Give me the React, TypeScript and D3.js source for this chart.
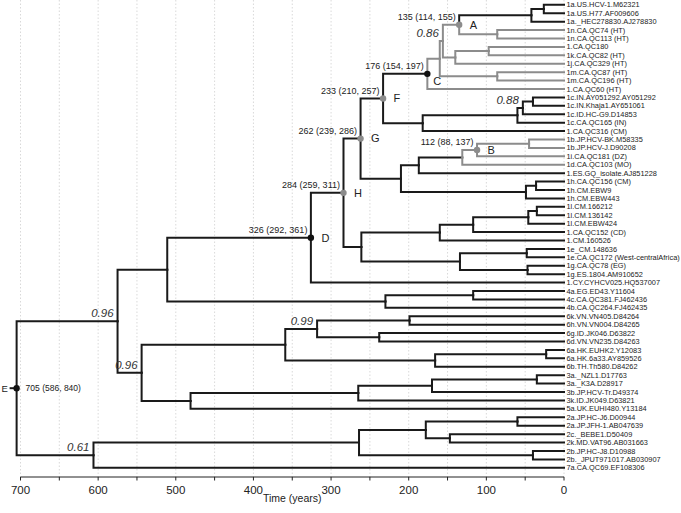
import React from "react";
import * as d3 from "d3";

const leafNames: string[] = [
  "1a.US.HCV-1.M62321",
  "1a.US.H77.AF009606",
  "1a._HEC278830.AJ278830",
  "1n.CA.QC74 (HT)",
  "1n.CA.QC113 (HT)",
  "1.CA.QC180",
  "1k.CA.QC82 (HT)",
  "1j.CA.QC329 (HT)",
  "1m.CA.QC87 (HT)",
  "1m.CA.QC196 (HT)",
  "1.CA.QC60 (HT)",
  "1c.IN.AY051292.AY051292",
  "1c.IN.Khaja1.AY651061",
  "1c.ID.HC-G9.D14853",
  "1c.CA.QC165 (IN)",
  "1.CA.QC316 (CM)",
  "1b.JP.HCV-BK.M58335",
  "1b.JP.HCV-J.D90208",
  "1i.CA.QC181 (DZ)",
  "1d.CA.QC103 (MO)",
  "1.ES.GQ_isolate.AJ851228",
  "1h.CA.QC156 (CM)",
  "1h.CM.EBW9",
  "1h.CM.EBW443",
  "1l.CM.166212",
  "1l.CM.136142",
  "1l.CM.EBW424",
  "1.CA.QC152 (CD)",
  "1.CM.160526",
  "1e_CM.148636",
  "1e.CA.QC172 (West-centralAfrica)",
  "1g.CA.QC78 (EG)",
  "1g.ES.1804.AM910652",
  "1.CY.CYHCV025.HQ537007",
  "4a.EG.ED43.Y11604",
  "4c.CA.QC381.FJ462436",
  "4b.CA.QC264.FJ462435",
  "6k.VN.VN405.D84264",
  "6h.VN.VN004.D84265",
  "6g.ID.JK046.D63822",
  "6d.VN.VN235.D84263",
  "6a.HK.EUHK2.Y12083",
  "6a.HK.6a33.AY859526",
  "6b.TH.Th580.D84262",
  "3a._NZL1.D17763",
  "3a._K3A.D28917",
  "3b.JP.HCV-Tr.D49374",
  "3k.ID.JK049.D63821",
  "5a.UK.EUHI480.Y13184",
  "2a.JP.HC-J6.D00944",
  "2a.JP.JFH-1.AB047639",
  "2c._BEBE1.D50409",
  "2k.MD.VAT96.AB031663",
  "2b.JP.HC-J8.D10988",
  "2b._JPUT971017.AB030907",
  "7a.CA.QC69.EF108306",
];

// [node id, age in years before present, child, child]  (leaves are L1..L56)
const internalNodes: [string, number, string, string][] = [
  ["n1a12", 26, "L1", "L2"],
  ["n1a", 42, "n1a12", "L3"],
  ["n1n", 86, "L4", "L5"],
  ["A", 135, "n1a", "n1n"],
  ["n180", 97, "L6", "L7"],
  ["n329", 140, "n180", "L8"],
  ["n086", 156, "A", "n329"],
  ["n1m", 86, "L9", "L10"],
  ["X", 160, "n086", "n1m"],
  ["C", 176, "X", "L11"],
  ["n1c12", 40, "L12", "L13"],
  ["n088", 53, "n1c12", "L14"],
  ["n1c", 60, "n088", "L15"],
  ["n316", 182, "n1c", "L16"],
  ["F", 233, "C", "n316"],
  ["n1b", 45, "L17", "L18"],
  ["B", 112, "n1b", "L19"],
  ["W", 131, "B", "L20"],
  ["Z", 187, "W", "L21"],
  ["n1h12", 36, "L22", "L23"],
  ["n1h", 49, "n1h12", "L24"],
  ["Y", 210, "Z", "n1h"],
  ["G", 262, "F", "Y"],
  ["n1l12", 35, "L25", "L26"],
  ["n1l3", 46, "n1l12", "L27"],
  ["n1l4", 117, "n1l3", "L28"],
  ["n1l5", 160, "n1l4", "L29"],
  ["n1e", 48, "L30", "L31"],
  ["n1g", 47, "L32", "L33"],
  ["n1eg", 134, "n1e", "n1g"],
  ["Lnode", 261, "n1l5", "n1eg"],
  ["H", 284, "G", "Lnode"],
  ["D", 326, "H", "L34"],
  ["n4ac", 117, "L35", "L36"],
  ["n4", 230, "n4ac", "L37"],
  ["P", 511, "D", "n4"],
  ["n6kh", 199, "L38", "L39"],
  ["n6gd", 238, "L40", "L41"],
  ["n099", 318, "n6kh", "n6gd"],
  ["n6a", 23, "L42", "L43"],
  ["n6ab", 166, "n6a", "L44"],
  ["n6", 359, "n099", "n6ab"],
  ["n3a", 35, "L45", "L46"],
  ["n3ab", 170, "n3a", "L47"],
  ["n3k", 265, "n3ab", "L48"],
  ["n35", 481, "n3k", "L49"],
  ["n096b", 544, "n6", "n35"],
  ["n096a", 575, "P", "n096b"],
  ["n2a", 60, "L50", "L51"],
  ["n2ck", 147, "L52", "L53"],
  ["n2ack", 178, "n2a", "n2ck"],
  ["n2b", 40, "L54", "L55"],
  ["n2", 264, "n2ack", "n2b"],
  ["n061", 606, "n2", "L56"],
  ["E", 705, "n096a", "n061"],
];

const nodeAgeLabels: [string, string][] = [
  ["A", "135 (114, 155)"],
  ["B", "112 (88, 137)"],
  ["C", "176 (154, 197)"],
  ["F", "233 (210, 257)"],
  ["G", "262 (239, 286)"],
  ["H", "284 (259, 311)"],
  ["D", "326 (292, 361)"],
];
const rootAgeLabel = "705 (586, 840)";
const rootId = "E";

const posteriors: [string, string][] = [
  ["n086", "0.86"],
  ["n088", "0.88"],
  ["n099", "0.99"],
  ["n096a", "0.96"],
  ["n096b", "0.96"],
  ["n061", "0.61"],
];

const grayDotNodes = ["A", "B", "F", "G", "H"];
const blackDotNodes = ["C", "D", "E"];
const grayCladeRoots = ["C", "W"];
const blackCladeRoots = ["n1a"];

const majorTicks = [0, 100, 200, 300, 400, 500, 600, 700];
const minorTicks = [50, 150, 250, 350, 450, 550, 650];
const axisTitle = "Time (years)";

const FONT = "'Liberation Sans', Arial, Helvetica, sans-serif";
const BLACK = "#1a1a1a";
const GRAY = "#8c8c8c";

export default function App() {
  const xs = d3.scaleLinear().domain([0, 700]).range([564, 20.5]);
  const ys = d3.scaleLinear().domain([0, leafNames.length - 1]).range([4.8, 467.8]);
  const axisY = 477;

  const pos = new Map<string, { t: number; y: number }>();
  leafNames.forEach((_, i) => pos.set(`L${i + 1}`, { t: 0, y: ys(i) }));
  const kids = new Map<string, string[]>();
  internalNodes.forEach(([id, t, a, b]) => {
    const ya = pos.get(a)!.y;
    const yb = pos.get(b)!.y;
    pos.set(id, { t, y: (ya + yb) / 2 });
    kids.set(id, [a, b]);
  });

  const gray = new Set<string>();
  const markGray = (id: string) => {
    (kids.get(id) || []).forEach((c) => {
      if (blackCladeRoots.includes(c)) return;
      gray.add(c);
      markGray(c);
    });
  };
  grayCladeRoots.forEach(markGray);

  const branches: { d: string; gray: boolean; key: string }[] = [];
  internalNodes.forEach(([id, t, a, b]) => {
    const p = pos.get(id)!;
    [a, b].forEach((c) => {
      const cp = pos.get(c)!;
      const path = d3.path();
      path.moveTo(xs(t), p.y);
      path.lineTo(xs(t), cp.y);
      path.lineTo(xs(cp.t), cp.y);
      branches.push({ d: path.toString(), gray: gray.has(c), key: id + c });
    });
  });
  branches.sort((u, v) => Number(u.gray) - Number(v.gray));

  const root = pos.get(rootId)!;
  const gridTicks = [...majorTicks, ...minorTicks];

  return (
    <svg
      width={681}
      height={513}
      style={{ position: "absolute", left: 0, top: 0, background: "#fff" }}
      fontFamily={FONT}
    >
      <rect x={0} y={0} width={681} height={513} fill="#fff" />
      {gridTicks.map((t) => (
        <line
          key={"g" + t}
          x1={xs(t)}
          x2={xs(t)}
          y1={0}
          y2={axisY}
          stroke="#cfcfcf"
          strokeWidth={0.8}
          strokeDasharray="1.5,2"
        />
      ))}
      {branches.map((b) => (
        <path
          key={b.key}
          d={b.d}
          fill="none"
          stroke={b.gray ? GRAY : BLACK}
          strokeWidth={2}
          strokeLinejoin="miter"
          strokeLinecap="square"
        />
      ))}
      <line x1={xs(root.t) - 7} x2={xs(root.t)} y1={root.y} y2={root.y} stroke={BLACK} strokeWidth={2} />

      {leafNames.map((n, i) => (
        <text key={n + i} x={566.5} y={ys(i)} dy="0.35em" fontSize={7.4} fill="#222">
          {n}
        </text>
      ))}

      {grayDotNodes.map((id) => {
        const p = pos.get(id)!;
        return <circle key={"d" + id} cx={xs(p.t)} cy={p.y} r={3.2} fill={GRAY} />;
      })}
      {blackDotNodes.map((id) => {
        const p = pos.get(id)!;
        return <circle key={"d" + id} cx={xs(p.t)} cy={p.y} r={3.2} fill="#111" />;
      })}

      {nodeAgeLabels.map(([id, s]) => {
        const p = pos.get(id)!;
        return (
          <text key={"a" + id} x={xs(p.t) - 3.5} y={p.y - 5} textAnchor="end" fontSize={9} fill="#222">
            {s}
          </text>
        );
      })}
      <text x={xs(root.t) + 9} y={root.y} dy="0.35em" fontSize={8.5} fill="#222">
        {rootAgeLabel}
      </text>

      {[...grayDotNodes, ...blackDotNodes].map((id) => {
        const p = pos.get(id)!;
        const x = xs(p.t);
        if (id === "E")
          return (
            <text key={"l" + id} x={x - 15} y={p.y} dy="0.35em" fontSize={9.5} fill="#222">
              {id}
            </text>
          );
        if (id === "C")
          return (
            <text key={"l" + id} x={x + 6} y={p.y + 7} dy="0.35em" fontSize={11} fill="#222">
              {id}
            </text>
          );
        return (
          <text key={"l" + id} x={x + 10.5} y={p.y} dy="0.35em" fontSize={11} fill="#222">
            {id}
          </text>
        );
      })}

      {posteriors.map(([id, s]) => {
        const p = pos.get(id)!;
        return (
          <text
            key={"p" + id}
            x={xs(p.t) - 4}
            y={p.y - 4}
            textAnchor="end"
            fontSize={11.5}
            fontStyle="italic"
            fill="#333"
          >
            {s}
          </text>
        );
      })}

      <line x1={xs(700)} x2={xs(0)} y1={axisY} y2={axisY} stroke="#222" strokeWidth={1} />
      {gridTicks.map((t) => (
        <line key={"t" + t} x1={xs(t)} x2={xs(t)} y1={axisY} y2={axisY + 3.5} stroke="#222" strokeWidth={1} />
      ))}
      {majorTicks.map((t) => (
        <text key={"tl" + t} x={xs(t)} y={494} textAnchor="middle" fontSize={11.5} fill="#222">
          {t}
        </text>
      ))}
      <text x={(xs(700) + xs(0)) / 2} y={502} textAnchor="middle" fontSize={10.5} fill="#222">
        {axisTitle}
      </text>
    </svg>
  );
}
